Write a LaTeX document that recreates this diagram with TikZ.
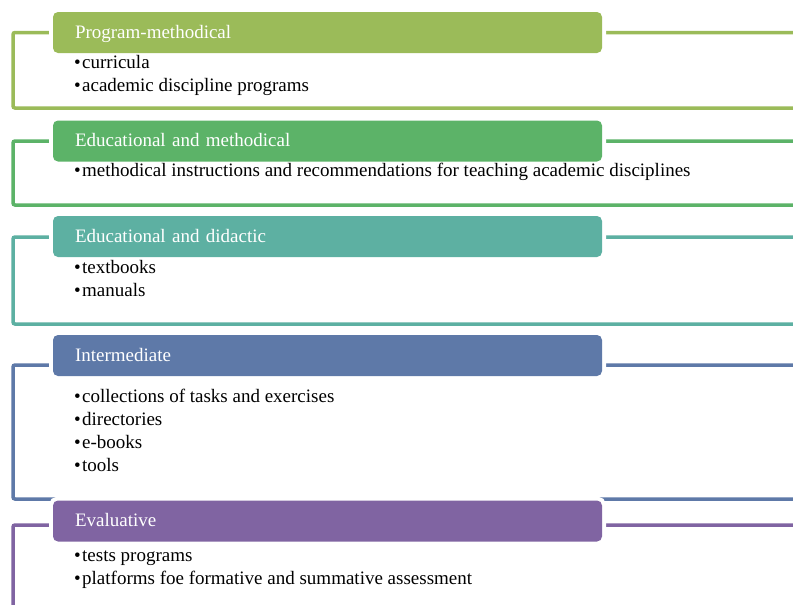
\documentclass[tikz,border=0pt]{standalone}
\usepackage{fontspec}
\setmainfont{Liberation Serif}
\definecolor{cA}{HTML}{9BBB59}
\definecolor{cB}{HTML}{5CB368}
\definecolor{cC}{HTML}{5DB0A2}
\definecolor{cD}{HTML}{5E79A8}
\definecolor{cE}{HTML}{8064A2}
\newcommand\blt{\makebox[8pt][l]{\textbullet}}
\tikzset{
  hdr/.style={rectangle, rounded corners=5pt, fill=#1, text=white,
    preaction={draw=white, line width=8pt},
    minimum height=41pt, text width=505pt, inner xsep=22pt, inner ysep=0pt,
    align=left, text height=14pt, text depth=3pt,
    font=\fontsize{19}{23}\selectfont},
  frame/.style={draw=#1, line width=3.5pt, rounded corners=2pt},
  items/.style={anchor=base west, inner sep=0pt, font=\fontsize{19}{23}\selectfont}
}
\begin{document}
\begin{tikzpicture}[x=1pt,y=-1pt]
\useasboundingbox (0,0) rectangle (793,605);
\clip (0,0) rectangle (793,605);
\fill[white] (0,0) rectangle (793,605);
% group 1
\draw[frame=cA] (13,32.5) rectangle (820,108);
\node[hdr=cA] (h1) at (327.5,32.5) {Program-methodical};
\node[items] (b1) at (74,68) {\begin{tabular}[t]{@{}l@{}}\blt curricula\\ \blt academic discipline programs\end{tabular}};
% group 2
\draw[frame=cB] (13,141) rectangle (820,205);
\node[hdr=cB] (h2) at (327.5,141) {Educational and methodical};
\node[items] (b2) at (74,176.5) {\begin{tabular}[t]{@{}l@{}}\blt methodical instructions and recommendations for teaching academic disciplines\end{tabular}};
% group 3
\draw[frame=cC] (13,237) rectangle (820,324);
\node[hdr=cC] (h3) at (327.5,236.5) {Educational and didactic};
\node[items] (b3) at (74,273) {\begin{tabular}[t]{@{}l@{}}\blt textbooks\\ \blt manuals\end{tabular}};
% group 4
\draw[frame=cD] (13,365) rectangle (820,499);
\node[hdr=cD] (h4) at (327.5,355.5) {Intermediate};
\node[items] (b4) at (74,402) {\begin{tabular}[t]{@{}l@{}}\blt collections of tasks and exercises\\ \blt directories\\ \blt e-books\\ \blt tools\end{tabular}};
% group 5
\draw[frame=cE] (13,525) rectangle (820,640);
\node[hdr=cE] (h5) at (327.5,521) {Evaluative};
\node[items] (b5) at (74,561) {\begin{tabular}[t]{@{}l@{}}\blt tests programs\\ \blt platforms foe formative and summative assessment\end{tabular}};
\end{tikzpicture}
\end{document}
